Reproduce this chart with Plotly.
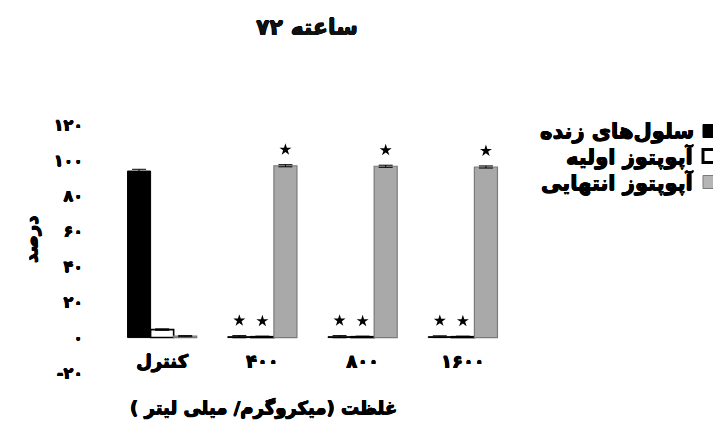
import plotly.graph_objects as go

# ---- data ----
categories = ["کنترل", "۴۰۰", "۸۰۰", "۱۶۰۰"]
viable = [94.0, 0.5, 0.5, 0.5]
early = [4.5, 0.5, 0.5, 0.5]
late = [0.8, 97.0, 96.7, 96.3]
viable_err = [1.0, 0.6, 0.6, 0.5]
early_err = [0.4, 0.3, 0.3, 0.3]
late_err = [0.3, 0.6, 0.6, 0.6]
viable_sig = [False, True, True, True]
early_sig = [False, True, True, True]
late_sig = [False, True, True, True]
series_names = ["سلول‌های زنده", "آپوپتوز اولیه", "آپوپتوز انتهایی"]
ytick_vals = [-20, 0, 20, 40, 60, 80, 100, 120]
ytick_text = ["-۲۰", "۰", "۲۰", "۴۰", "۶۰", "۸۰", "۱۰۰", "۱۲۰"]
title_text = "۷۲ ساعته"
xtitle_text = "غلظت (میکروگرم/ میلی لیتر )"
ytitle_text = "درصد"

FONT = "DejaVu Sans"
RLE, PDF = "\u202B", "\u202C"
SHADOW = "0.5px 0 0 #000, -0.5px 0 0 #000, 0 0.5px 0 #000, 0 -0.5px 0 #000"

# the page body adds an 8px margin, so work in window pixels and subtract it
OFF = 8
WIN_W, WIN_H = 721, 425
W_FIG, H_FIG = WIN_W - OFF, WIN_H - OFF
L, R, T, B = 112, 513, 125, 373          # plot area in window pixels
PW, PH = R - L, B - T


def px(x):
    return (x - L) / PW


def py(y):
    return (B - y) / PH


def fnt(size, color="#000000"):
    return dict(family=FONT, size=size, color=color, weight="bold", shadow=SHADOW)


fig = go.Figure()

styles = [
    dict(color="#000000", line=dict(color="#000000", width=1)),
    dict(color="#ffffff", line=dict(color="#000000", width=1.6)),
    dict(color="#a9a9a9", line=dict(color="#7a7a7a", width=1.2)),
]
values = [viable, early, late]
errs = [viable_err, early_err, late_err]
sigs = [viable_sig, early_sig, late_sig]

for name, vals, err, st in zip(series_names, values, errs, styles):
    fig.add_trace(go.Bar(
        x=categories, y=vals, name=name,
        marker=st,
        error_y=dict(type="data", array=err, visible=True,
                     color="#000000", thickness=1, width=7),
        showlegend=False,
    ))

# significance stars, grouped the same way as the bars
for vals, err, sig in zip(values, errs, sigs):
    ys = [v + e + 8.5 if s else None for v, e, s in zip(vals, err, sig)]
    fig.add_trace(go.Scatter(
        x=categories, y=ys, mode="markers",
        marker=dict(symbol="star", size=9, color="#000000"),
        showlegend=False, cliponaxis=False, hoverinfo="skip",
    ))

fig.update_layout(
    width=W_FIG, height=H_FIG,
    margin=dict(l=L - OFF, r=WIN_W - R, t=T - OFF, b=WIN_H - B, pad=0, autoexpand=False),
    paper_bgcolor="white", plot_bgcolor="white",
    barmode="group", bargap=0.31, bargroupgap=0.0,
    scattermode="group", scattergap=0.31,
    font=dict(family=FONT, color="#000000"),
    title=dict(text=title_text, x=(307 - OFF) / W_FIG, xanchor="center",
               y=1 - (27 - OFF) / H_FIG, yanchor="middle",
               font=fnt(22, "#111111")),
    xaxis=dict(
        range=[-0.5, 3.5], showline=False, showgrid=False, zeroline=False,
        ticks="", anchor="free", position=20 / 140,
        tickfont=fnt(18),
        ticklabelstandoff=11,
    ),
    yaxis=dict(
        range=[-20, 120], showline=False, showgrid=False, zeroline=False,
        ticks="", tickvals=ytick_vals, ticktext=ytick_text,
        tickfont=fnt(16),
        ticklabelstandoff=28,
    ),
)

# axis titles
fig.add_annotation(text=RLE + xtitle_text + PDF, xref="paper", yref="paper",
                   x=px(263), y=py(408), xanchor="center", yanchor="middle",
                   showarrow=False, font=fnt(18))
fig.add_annotation(text=ytitle_text, xref="paper", yref="paper",
                   x=px(30), y=py(240), xanchor="center", yanchor="middle", textangle=-90,
                   showarrow=False, font=fnt(18))

# custom right-to-left legend (text on the left, swatch on the right)
legend_rows = [131, 156, 182]
for name, st, ry in zip(series_names, styles, legend_rows):
    fig.add_annotation(text=RLE + name + PDF, xref="paper", yref="paper",
                       x=px(696), y=py(ry), xanchor="right", yanchor="middle",
                       showarrow=False, font=fnt(21))
    lw = 3 if st["color"] == "#ffffff" else 1
    fill = "#b5b5b5" if st["color"] == "#a9a9a9" else st["color"]
    fig.add_shape(type="rect", xref="paper", yref="paper",
                  x0=px(703), x1=px(716), y0=py(ry + 6.5), y1=py(ry - 6.5),
                  fillcolor=fill, line=dict(color=st["line"]["color"], width=lw))

fig.write_html("out.html")
